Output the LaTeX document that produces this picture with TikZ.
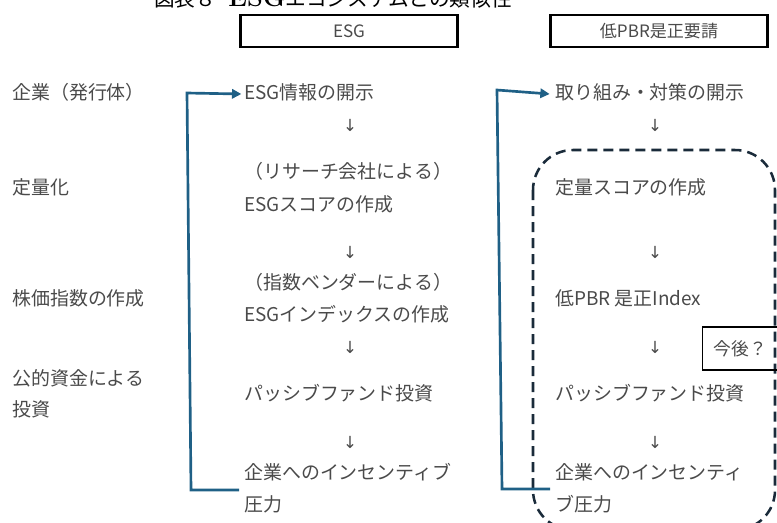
\documentclass[tikz,border=0pt]{standalone}
\usepackage{fontspec}
\newfontfamily\jp{Noto Sans CJK JP}
\newfontfamily\arrowfont{DejaVu Sans}
\usetikzlibrary{arrows.meta}
\definecolor{txt}{HTML}{4A4A4A}
\definecolor{conn}{HTML}{1F6086}
\definecolor{dash}{HTML}{1A2B3A}
\begin{document}
\begin{tikzpicture}[x=0.75pt,y=-0.75pt,
  lbl/.style={anchor=west,inner sep=0pt,text height=0.88em,text depth=0.12em,font=\jp\fontsize{14.2}{17}\selectfont,text=txt},
  dn/.style={inner sep=0pt,font=\arrowfont\fontsize{12.5}{14}\selectfont,text=txt},
  hdr/.style={draw=black,line width=2pt,minimum width=217*0.75pt,minimum height=32*0.75pt,inner sep=0pt,font=\jp\fontsize{12.8}{14}\selectfont,text=txt},
  bline/.style={draw=conn,line width=2pt},
  dashbox/.style={draw=dash,line width=1.9pt,dash pattern=on 7.5pt off 4.5pt,rounded corners=30pt},
  ]
\useasboundingbox (0,0) rectangle (777,522);
\clip (0,0) rectangle (777,522);
% title (cut off at top, as in the reference)
\node (title) at (333,-1) [inner sep=0pt,font=\fontsize{15.5}{18}\selectfont]
  {{\jp 図表８}\hspace{0.6em}{\fontsize{19}{20}\selectfont\textbf{ESG}}{\jp エコシステムとの類似性}};
% headers
\node[hdr] (h1) at (349,31) {ESG};
\node[hdr] (h2) at (659,31) {低PBR是正要請};
% left labels
\node[lbl] (l1) at (12,94) {企業（発行体）};
\node[lbl] (l2) at (12,189) {定量化};
\node[lbl] (l3) at (12,300) {株価指数の作成};
\node[lbl] (l4) at (12,380) {公的資金による};
\node[lbl] (l5) at (12,411) {投資};
% middle column
\node[lbl] (m1) at (244,94) {ESG情報の開示};
\node[dn] (ma1) at (350,125) {↓};
\node[lbl] (m2) at (244,173) {（リサーチ会社による）};
\node[lbl] (m3) at (244,206) {ESGスコアの作成};
\node[dn] (ma2) at (350,252) {↓};
\node[lbl] (m4) at (244,284) {（指数ベンダーによる）};
\node[lbl] (m5) at (244,316) {ESGインデックスの作成};
\node[dn] (ma3) at (350,347) {↓};
\node[lbl] (m6) at (244,395) {パッシブファンド投資};
\node[dn] (ma4) at (350,442) {↓};
\node[lbl] (m7) at (244,474) {企業へのインセンティブ};
\node[lbl] (m8) at (244,506) {圧力};
% right column
\node[lbl] (r1) at (555,94) {取り組み・対策の開示};
\node[dn] (ra1) at (655,125) {↓};
\node[lbl] (r2) at (555,189) {定量スコアの作成};
\node[dn] (ra2) at (655,252) {↓};
\node[lbl] (r3) at (555,300) {低PBR 是正Index};
\node[dn] (ra3) at (655,347) {↓};
\node[lbl] (r4) at (555,395) {パッシブファンド投資};
\node[dn] (ra4) at (655,442) {↓};
\node[lbl] (r5) at (555,474) {企業へのインセンティ};
\node[lbl] (r6) at (555,506) {ブ圧力};
% dashed rounded region
\draw[dashbox] (533,150) rectangle (775,530);
% future box
\node[draw=black,line width=0.8pt,minimum width=76*0.75pt,minimum height=43*0.75pt,inner sep=0pt,anchor=west,font=\jp\fontsize{13.3}{15}\selectfont,text=txt] (fut) at (702,348.5) {今後？};
% feedback connectors
\coordinate (lb) at (191,490);
\coordinate (lt) at (187,93);
\draw[bline,-{Triangle[length=7pt,width=7pt]}] (239,490) -- (lb) -- (lt) -- ([xshift=-2pt]m1.west);
\coordinate (rb) at (502,489);
\coordinate (rt) at (497,90);
\draw[bline,-{Triangle[length=7pt,width=7pt]}] (550,489) -- (rb) -- (rt) -- ([xshift=-4pt]r1.west);
\end{tikzpicture}
\end{document}
